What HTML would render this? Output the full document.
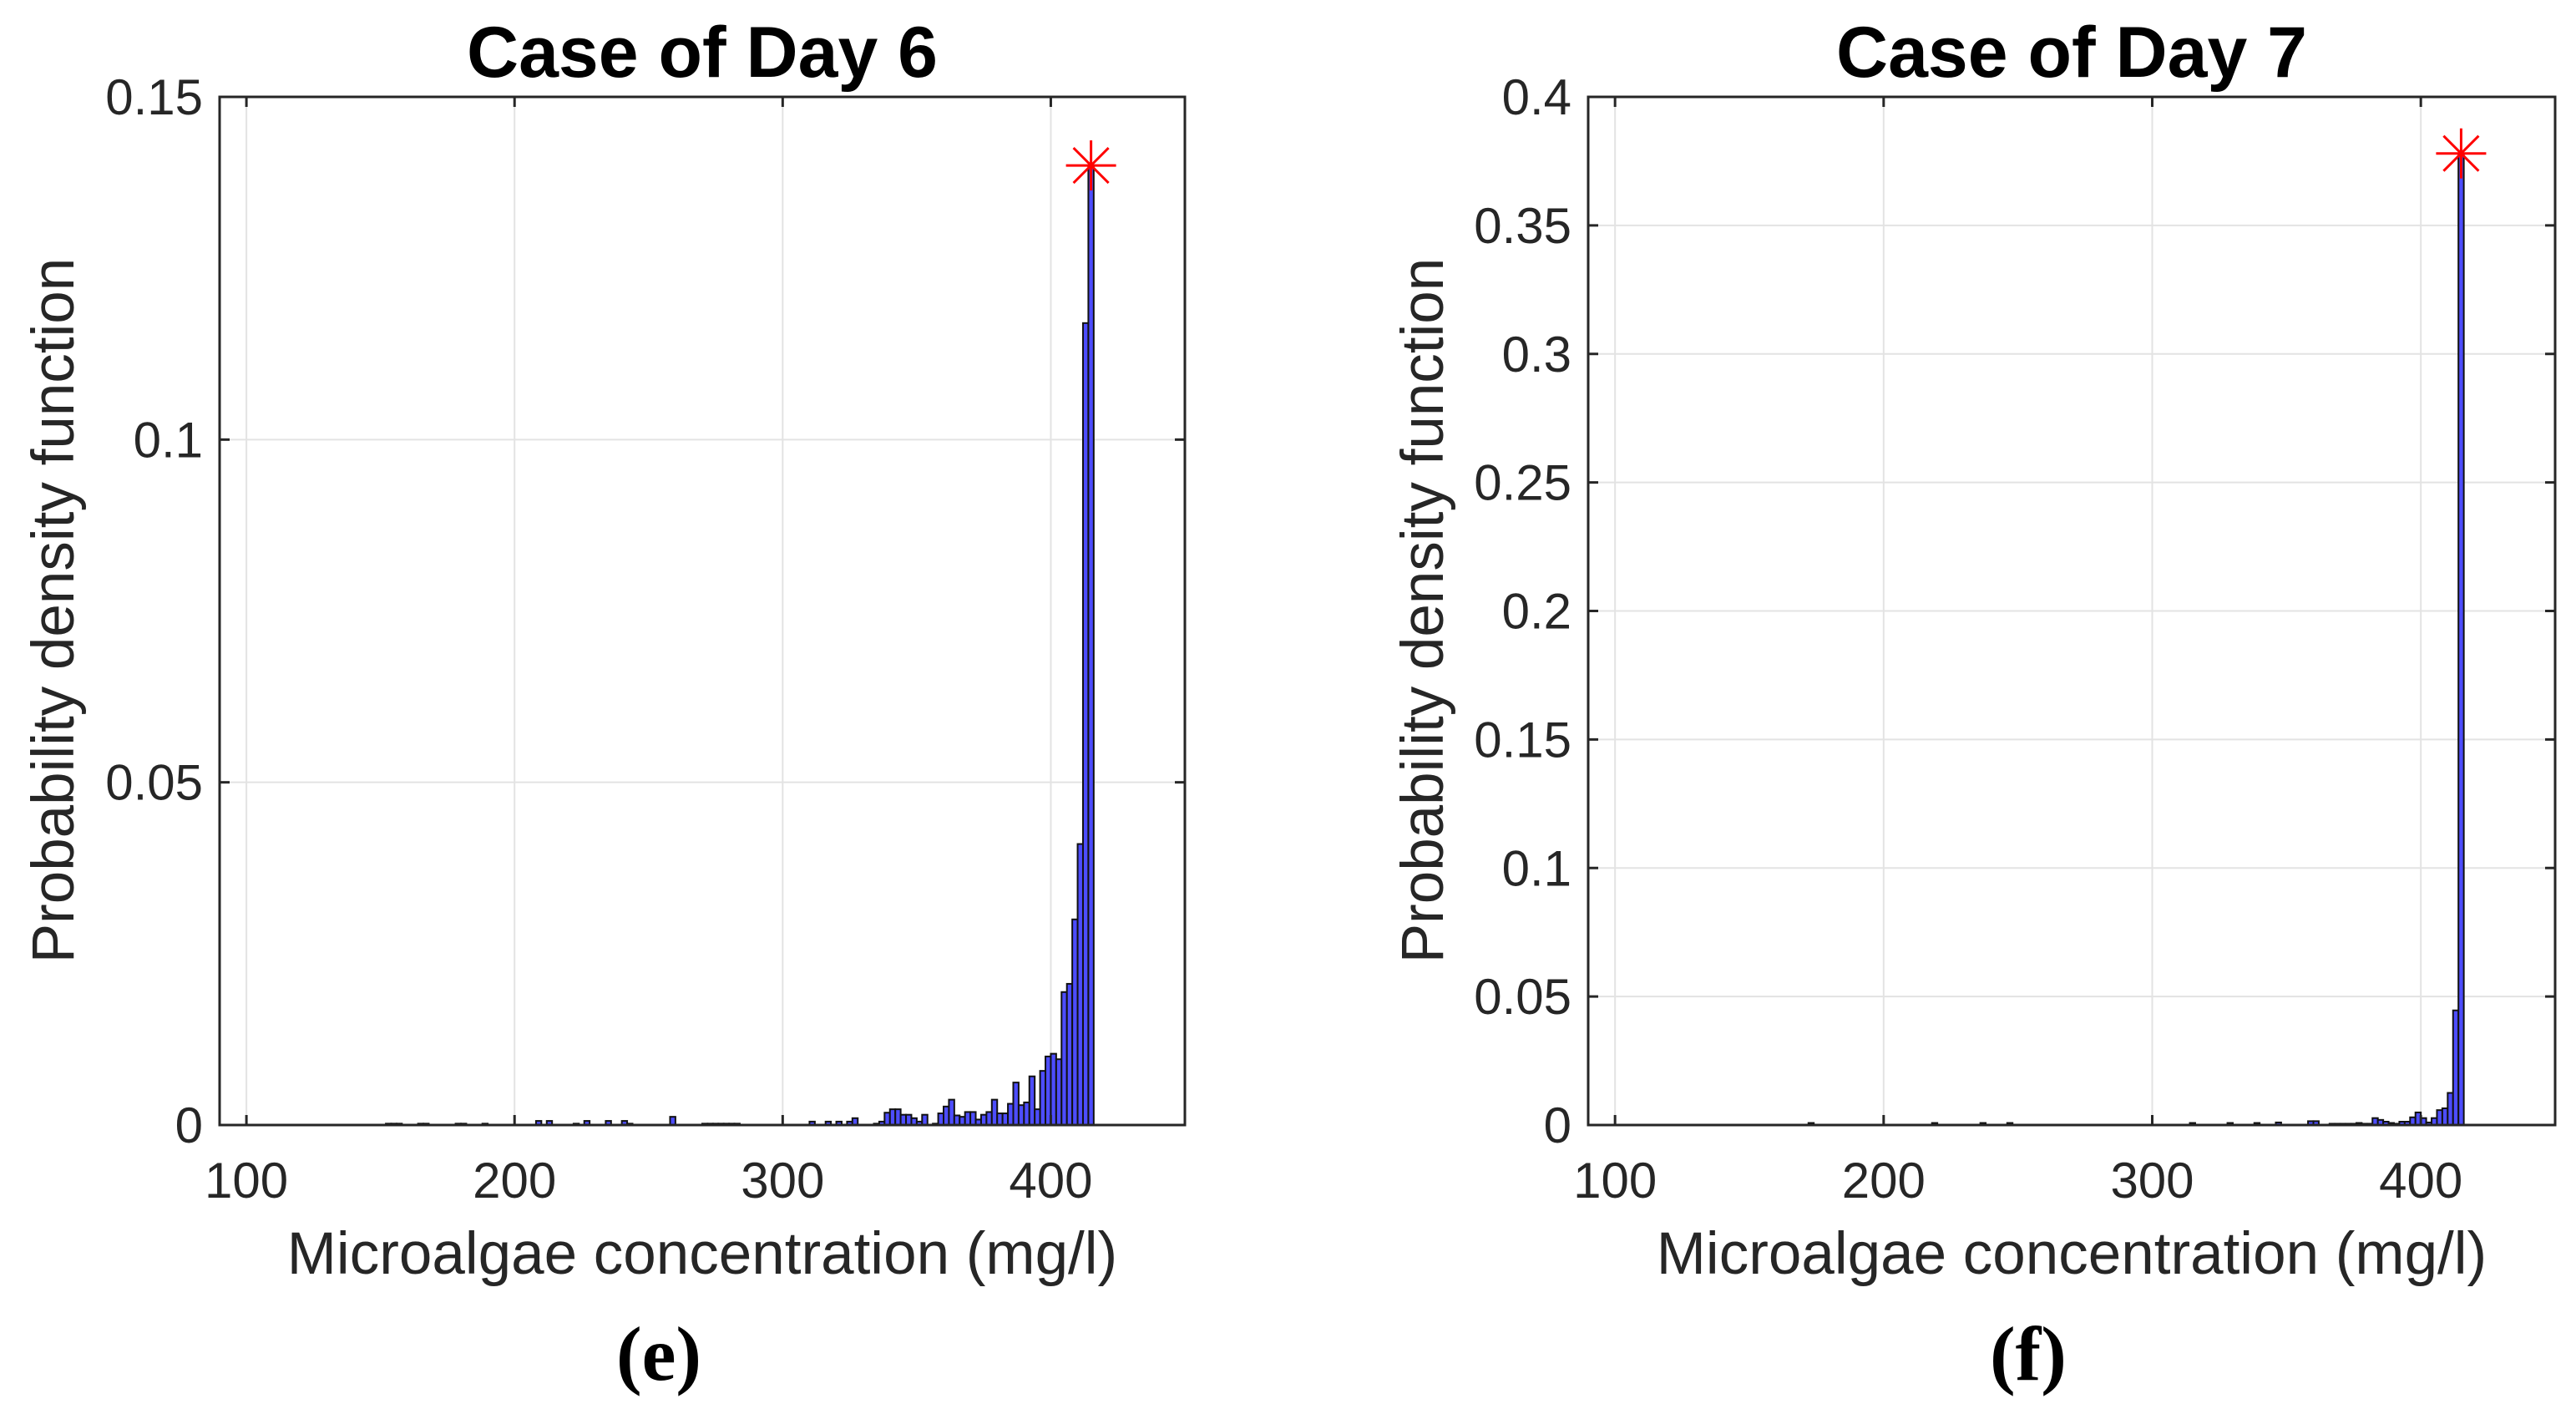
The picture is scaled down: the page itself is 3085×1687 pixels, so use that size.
<!DOCTYPE html>
<html><head><meta charset="utf-8"><style>
html,body{margin:0;padding:0;background:#fff;}
svg{display:block;}
</style></head><body>
<svg id="fig" width="3085" height="1687" viewBox="0 0 3085 1687" xmlns="http://www.w3.org/2000/svg" font-family="Liberation Sans, Arial, sans-serif"></svg>
<script>
// ---- data ----
const binWidth = 2;
// low-range scattered bins (start at 150)
const leftLowStart = 150;
const leftLowCounts = [
 0,0.0002,0.0002,0.0002,0,0,0,0.0002,0.0002,0,0,0,0,0,0.0002,0.0002,0,0,0,0.0002,0,
 0,0,0,0,0,0,0,0,0.0006,0,0.0006,0,0,0,0,0.0002,0,0.0006,0,0,0,0.0006,0,0,0.0006,0.0002,0,0,0,0,0,0,0,0.0012,0,0,0,0,0,0.0002,0.0002,0.0002,0.0002,0.0002,0.0002,0.0002
];
// high-range bins (end at 416)
const leftHighEnd = 416;
const leftHighCounts = [
 0.0005,0,0,0.0005,0,0.0005,0,0.0005,0.001,0,0,0,0.0002,0.0005,0.0018,0.0023,0.0023,0.0015,0.0015,0.001,0.0005,0.0015,0,0.0002,0.0017,0.0027,0.0037,0.0014,0.0012,0.0019,0.0019,0.0008,0.0015,0.0019,0.0037,0.0017,0.0017,0.0031,0.0062,0.0029,0.0033,0.0071,0.0023,0.0079,0.010,0.0104,0.0096,0.0194,0.0206,0.030,0.041,0.117,0.140
];
const rightBinStart = 150;
const rightCounts = [
 0,0,0,0,0,0,0,0,0,0,0,0.0008,0,0,0,0,0,0,0,0,0,0,0,0,0,0,0,0,0,0,0,0,0,0,0.0008,0,0,0,0,0,0,0,0,0.0008,0,0,0,0,0.0008,0,0,0,0,0,0,0,0,0,0,0,0,0,0,0,0,0,0,0,0,0,0,0,0,0,0,0,0,0,0,0,0,0,0.0008,0,0,0,0,0,0,0.0008,0,0,0,0,0.0008,
 0,0,0,0.001,0,0,0,0,0,0.0015,0.0015,0,0,0.0005,0.0005,0.0005,0.0005,0.0005,0.0008,0.0005,0.0005,0.0027,0.002,0.0013,0.0008,0.0005,0.0013,0.0013,0.003,0.0049,0.0027,0.001,0.0027,0.0058,0.0065,0.0125,0.0446,0.378
];
const xTicks = [100,200,300,400];
const leftYTicks = [0,0.05,0.1,0.15];
const leftYLabels = ['0','0.05','0.1','0.15'];
const rightYTicks = [0,0.05,0.1,0.15,0.2,0.25,0.3,0.35,0.4];
const rightYLabels = ['0','0.05','0.1','0.15','0.2','0.25','0.3','0.35','0.4'];
const leftPeak = [415, 0.140];
const rightPeak = [415, 0.378];

const NS='http://www.w3.org/2000/svg';
const svg=document.getElementById('fig');
function mk(tag,attrs,parent){const e=document.createElementNS(NS,tag);for(const k in attrs)e.setAttribute(k,attrs[k]);(parent||svg).appendChild(e);return e;}

function panel(cfg){
  const g=mk('g',{});
  
  
  const L=cfg.x0,R=cfg.x1,T=116,B=1347;
  const xs=v=>L+(v-90)/(450-90)*(R-L);
  const ys=v=>B-(v/cfg.ymax)*(B-T);
  xTicks.forEach(t=>{const l=mk('line',{x1:xs(t),x2:xs(t),y1:T,y2:B,stroke:'#e3e3e3','stroke-width':2},g);
    });
  cfg.yt.forEach(t=>{const l=mk('line',{x1:L,x2:R,y1:ys(t),y2:ys(t),stroke:'#e3e3e3','stroke-width':2},g);
    });
  cfg.series.forEach(sr=>{
    sr.counts.forEach((c,i)=>{
      if(c<=0)return;
      const a=sr.start+i*binWidth;
      const r=mk('rect',{x:xs(a),y:ys(c),width:xs(a+binWidth)-xs(a),height:B-ys(c),fill:'#4d4dff',stroke:'#111','stroke-width':2},g);
      
      
    });
  });
  const box=mk('rect',{x:L,y:T,width:R-L,height:B-T,fill:'none',stroke:'#262626','stroke-width':3},g);
  
  xTicks.forEach(t=>{
    mk('line',{x1:xs(t),x2:xs(t),y1:B,y2:B-12,stroke:'#262626','stroke-width':3},g);
    mk('line',{x1:xs(t),x2:xs(t),y1:T,y2:T+12,stroke:'#262626','stroke-width':3},g);
    const tx=mk('text',{x:xs(t),y:1434,'font-size':60,'text-anchor':'middle',fill:'#262626'},g);
    tx.textContent=t;
  });
  cfg.yt.forEach((t,i)=>{
    mk('line',{x1:L,x2:L+12,y1:ys(t),y2:ys(t),stroke:'#262626','stroke-width':3},g);
    mk('line',{x1:R,x2:R-12,y1:ys(t),y2:ys(t),stroke:'#262626','stroke-width':3},g);
    const tx=mk('text',{x:L-20,y:ys(t)+21,'font-size':60,'text-anchor':'end',fill:'#262626'},g);
    tx.textContent=cfg.yl[i];
  });
  const px=xs(cfg.peak[0]),py=ys(cfg.peak[1]),s=30,d=21;
  const st=mk('g',{stroke:'#ff0000','stroke-width':3},g);
  
  mk('line',{x1:px-s,x2:px+s,y1:py,y2:py},st);
  mk('line',{x1:px,x2:px,y1:py-s,y2:py+s},st);
  mk('line',{x1:px-d,x2:px+d,y1:py-d,y2:py+d},st);
  mk('line',{x1:px-d,x2:px+d,y1:py+d,y2:py-d},st);
  const cx=(L+R)/2;
  const ti=mk('text',{x:cx,y:92,'font-size':86,'font-weight':'bold','text-anchor':'middle',fill:'#000'},g);
  ti.textContent=cfg.title;
  const xl=mk('text',{x:cx,y:1525,'font-size':71,'text-anchor':'middle',fill:'#262626'},g);
  xl.textContent='Microalgae concentration (mg/l)';
  const yl=mk('text',{x:0,y:0,'font-size':71,'text-anchor':'middle',fill:'#262626',transform:`translate(${cfg.ylx},731) rotate(-90)`},g);
  yl.textContent='Probability density function';
  const pl=mk('text',{x:cx-52,y:1652,'font-size':92,'font-weight':'bold','font-family':'Liberation Serif, serif','text-anchor':'middle',fill:'#000'},g);
  pl.textContent=cfg.panel;
}
panel({name:'chart-day-6',x0:263,x1:1419,ymax:0.15,yt:leftYTicks,yl:leftYLabels,
  series:[{start:leftLowStart,counts:leftLowCounts},{start:leftHighEnd-leftHighCounts.length*binWidth,counts:leftHighCounts}],
  peak:leftPeak,title:'Case of Day 6',ylx:88,panel:'(e)'});
panel({name:'chart-day-7',x0:1902,x1:3060,ymax:0.4,yt:rightYTicks,yl:rightYLabels,
  series:[{start:rightBinStart,counts:rightCounts}],
  peak:rightPeak,title:'Case of Day 7',ylx:1728,panel:'(f)'});
</script>
</body></html>
